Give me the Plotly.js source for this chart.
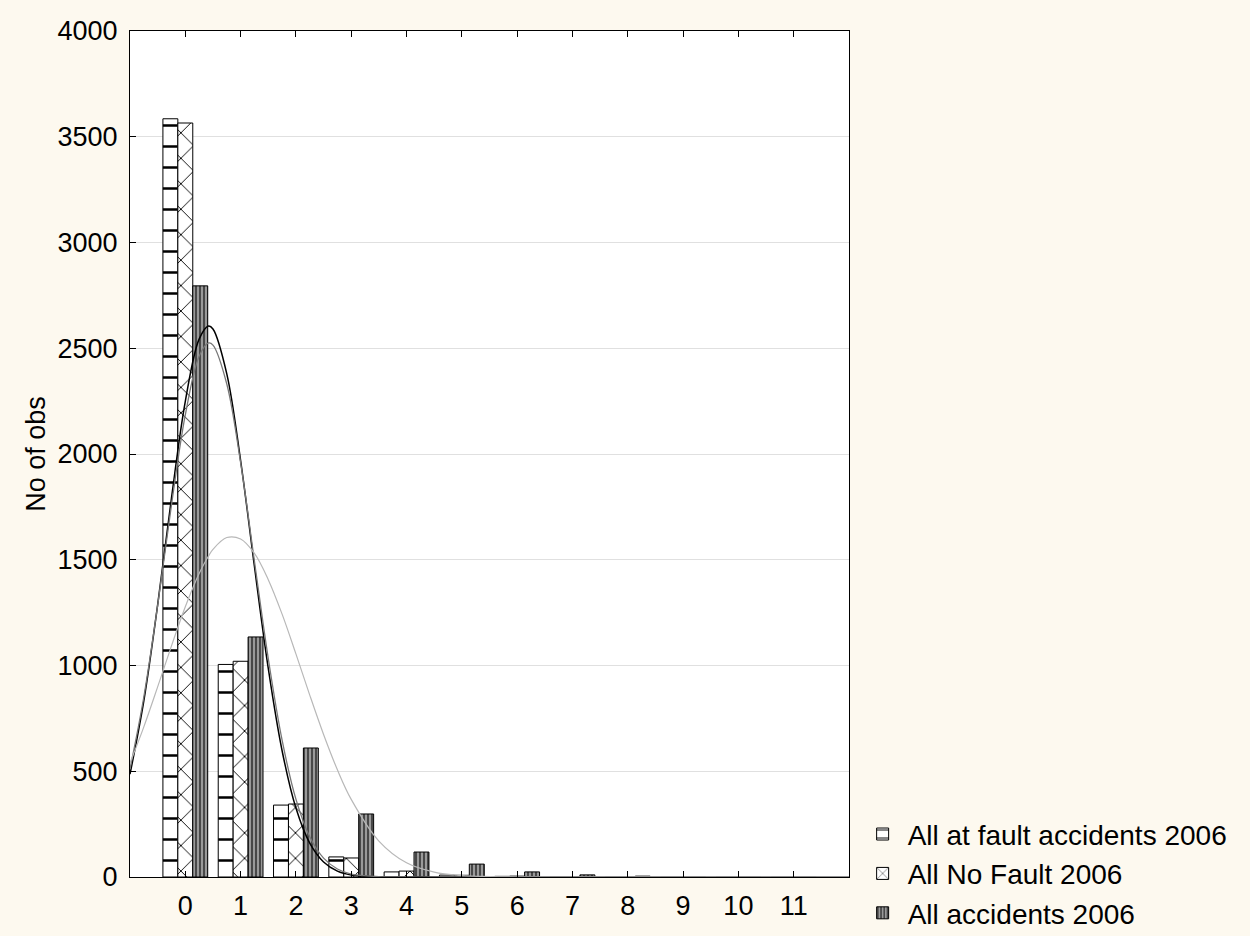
<!DOCTYPE html>
<html>
<head>
<meta charset="utf-8">
<script src="https://cdn.plot.ly/plotly-3.0.1.min.js"></script>
<style>
html,body{margin:0;padding:0;background:#FDF9EF;}
#chart{width:1250px;height:936px;}
</style>
</head>
<body>
<div id="chart"></div>
<script>
// Categories (number of accidents)
const categories = [0,1,2,3,4,5,6,7,8,9,10,11];
const tickLabels = ["0","1","2","3","4","5","6","7","8","9","10","11"];

const atFault  = [3585, 1005, 340, 95, 24, 9, 3, 1, 0.5, 0.3, 0.2, 0.2];
const noFault  = [3565, 1020, 345, 90, 28, 8, 4, 1, 0.5, 0.3, 0.2, 0.2];
const allAcc   = [2795, 1135, 610, 298, 118, 61, 24, 10, 4, 2, 1, 1];

// Fitted curves
const curveX        = [-1, -0.75, -0.5, -0.25, 0, 0.25, 0.42, 0.5, 0.75, 1, 1.25, 1.5, 1.75, 2, 2.25, 2.5, 2.75, 3, 3.5, 4, 4.5, 5, 5.5, 6, 7, 8, 9, 10, 11, 12];
const curveAtFault  = [486, 833, 1287, 1792, 2249, 2543, 2605, 2591, 2379, 1969, 1468, 986, 597, 326, 160, 71, 28, 10, 1, 0, 0, 0, 0, 0, 0, 0, 0, 0, 0, 0];
const curveNoFault  = [511, 851, 1284, 1759, 2185, 2462, 2525, 2515, 2331, 1959, 1493, 1033, 647, 368, 190, 89, 38, 14, 2, 0, 0, 0, 0, 0, 0, 0, 0, 0, 0, 0];
const curveAll      = [539, 710, 899, 1093, 1278, 1435, 1518, 1549, 1605, 1598, 1530, 1406, 1243, 1055, 860, 674, 507, 367, 170, 67, 23, 7, 2, 0, 0, 0, 0, 0, 0, 0];

const seriesNames = ["All at fault accidents 2006", "All No Fault 2006", "All accidents 2006"];

const FONT = "Liberation Sans, Arial, sans-serif";

const traces = [
  {
    type: "bar", x: categories, y: atFault, name: seriesNames[0],
    marker: {
      color: "#ffffff",
      line: {color: "#000000", width: 1},
      pattern: {shape: "-", size: 21, solidity: 0.12, fgcolor: "#000000", bgcolor: "#ffffff", fillmode: "replace"}
    }
  },
  {
    type: "bar", x: categories, y: noFault, name: seriesNames[1],
    marker: {
      color: "#ffffff",
      line: {color: "#000000", width: 1},
      pattern: {shape: "x", size: 18, solidity: 0.1, fgcolor: "#000000", bgcolor: "#ffffff", fillmode: "replace"}
    }
  },
  {
    type: "bar", x: categories, y: allAcc, name: seriesNames[2],
    marker: {
      color: "#999999",
      line: {color: "#000000", width: 1},
      pattern: {shape: "|", size: 4, solidity: 0.4, fgcolor: "#333333", bgcolor: "#9a9a9a", fillmode: "replace"}
    }
  },
  {
    type: "scatter", mode: "lines", x: curveX, y: curveAtFault, showlegend: false,
    line: {color: "#000000", width: 1.5, shape: "spline"}, hoverinfo: "skip"
  },
  {
    type: "scatter", mode: "lines", x: curveX, y: curveNoFault, showlegend: false,
    line: {color: "#777777", width: 1.3, shape: "spline"}, hoverinfo: "skip"
  },
  {
    type: "scatter", mode: "lines", x: curveX, y: curveAll, showlegend: false,
    line: {color: "#b8b8b8", width: 1.2, shape: "spline"}, hoverinfo: "skip"
  }
];

const layout = {
  width: 1250, height: 936,
  paper_bgcolor: "#FDF9EF",
  plot_bgcolor: "#ffffff",
  margin: {l: 130, r: 401, t: 31, b: 59, pad: 0, autoexpand: false},
  barmode: "group",
  bargap: 0.19,
  bargroupgap: 0,
  font: {family: FONT, size: 26, color: "#000000"},
  showlegend: true,
  legend: {
    x: 1.012, xanchor: "left",
    y: 0.08, yanchor: "top",
    bgcolor: "rgba(0,0,0,0)",
    font: {family: FONT, size: 28, color: "#000000"},
    itemwidth: 40,
    tracegroupgap: 0
  },
  xaxis: {
    range: [-1, 12],
    tickvals: categories,
    ticktext: tickLabels,
    ticks: "inside", ticklen: 6, tickcolor: "#000000",
    ticklabelstandoff: 5,
    showline: true, linecolor: "#000000", linewidth: 1,
    mirror: "ticks",
    showgrid: false, zeroline: false,
    tickfont: {family: FONT, size: 27, color: "#000000"}
  },
  yaxis: {
    range: [0, 4000],
    dtick: 500,
    ticks: "inside", ticklen: 6, tickcolor: "#000000",
    ticklabelstandoff: 6,
    showline: true, linecolor: "#000000", linewidth: 1,
    mirror: true,
    showgrid: true, gridcolor: "#e0e0e0", gridwidth: 1,
    zeroline: false,
    tickfont: {family: FONT, size: 27, color: "#000000"},
    title: {text: "No of obs", font: {family: FONT, size: 27, color: "#000000"}, standoff: 4}
  }
};

Plotly.newPlot("chart", traces, layout, {displayModeBar: false, staticPlot: true});
</script>
</body>
</html>
